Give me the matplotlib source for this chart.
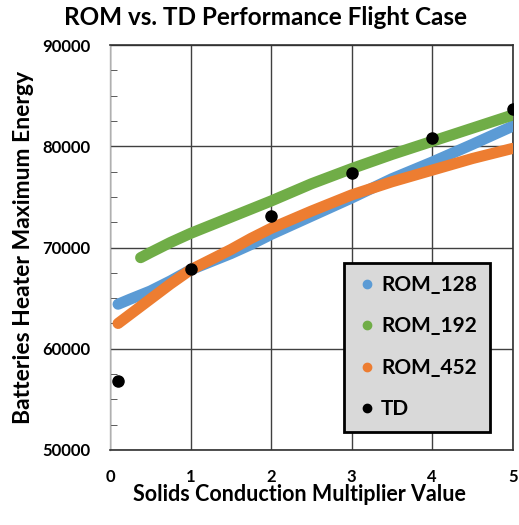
import matplotlib
matplotlib.use("Agg")
import matplotlib.pyplot as plt
from matplotlib.lines import Line2D
from matplotlib.ticker import MultipleLocator

plt.rcParams['font.family'] = ['Lato', 'DejaVu Sans']
plt.rcParams['font.weight'] = 'bold'

# Data
x_128 = [0.1, 0.25, 0.5, 0.75, 1.0, 1.25, 1.5, 1.75, 2.0, 2.5, 3.0, 3.5, 4.0, 4.5, 5.0]
rom_128 = [64400, 64900, 65700, 66700, 67800, 68600, 69400, 70300, 71300, 73100, 74900, 76800, 78450, 80200, 82000]

x_452 = [0.1, 0.25, 0.5, 0.75, 1.0, 1.25, 1.5, 1.75, 2.0, 2.5, 3.0, 3.5, 4.0, 4.5, 5.0]
rom_452 = [62500, 63400, 64900, 66400, 67800, 68800, 69800, 70900, 71900, 73600, 75200, 76500, 77650, 78800, 79800]

x_192 = [0.38, 0.5, 0.75, 1.0, 1.25, 1.5, 1.75, 2.0, 2.5, 3.0, 3.5, 4.0, 4.5, 5.0]
rom_192 = [69000, 69500, 70500, 71400, 72200, 73000, 73800, 74600, 76300, 77800, 79200, 80500, 81800, 83100]

td_x = [0.1, 1, 2, 3, 4, 5]
td_y = [56800, 67900, 73150, 77400, 80800, 83700]

series_names = ['ROM_128', 'ROM_192', 'ROM_452', 'TD']
c_blue = '#5b9bd5'
c_green = '#70ad47'
c_orange = '#ed7d31'

fig = plt.figure(figsize=(5.19, 5.25), dpi=100)
ax = fig.add_axes([0.212, 0.143, 0.776, 0.771])

lw = 8
ax.plot(x_128, rom_128, color=c_blue, lw=lw, solid_capstyle='round', zorder=3)
ax.plot(x_192, rom_192, color=c_green, lw=lw, solid_capstyle='round', zorder=3)
ax.plot(x_452, rom_452, color=c_orange, lw=lw, solid_capstyle='round', zorder=4)
ax.plot(td_x, td_y, 'o', color='black', ms=8, zorder=5, linestyle='none')

ax.set_xlim(0, 5)
ax.set_ylim(50000, 90000)
ax.xaxis.set_major_locator(MultipleLocator(1))
ax.yaxis.set_major_locator(MultipleLocator(10000))
ax.yaxis.set_minor_locator(MultipleLocator(2500))
ax.grid(True, which='major', color='#404040', lw=1)
ax.set_axisbelow(True)
ax.tick_params(axis='x', which='major', length=0, labelsize=12, pad=14)
ax.tick_params(axis='y', which='major', length=0, labelsize=12, pad=14)
ax.tick_params(axis='y', which='minor', direction='in', length=5, color='#404040')
ax.tick_params(axis='x', which='minor', length=0)
for lab in ax.get_xticklabels() + ax.get_yticklabels():
    lab.set_fontweight('bold')

for s in ['top', 'right', 'bottom']:
    ax.spines[s].set_color('#303030')
    ax.spines[s].set_linewidth(1.2)
ax.spines['left'].set_color('#b0b0b0')
ax.spines['left'].set_linewidth(1.0)

fig.text(0.512, 0.966, 'ROM vs. TD Performance Flight Case', fontsize=17.5,
         fontweight='bold', ha='center', va='center')
ax.set_xlabel('Solids Conduction Multiplier Value', fontsize=15.5, fontweight='bold', labelpad=2)
ax.xaxis.set_label_coords(0.47, -0.085)
ax.set_ylabel('Batteries Heater Maximum Energy', fontsize=16.5, fontweight='bold', labelpad=6)

handles = [
    Line2D([], [], marker='o', color=c_blue, ls='none', ms=6),
    Line2D([], [], marker='o', color=c_green, ls='none', ms=6),
    Line2D([], [], marker='o', color=c_orange, ls='none', ms=6),
    Line2D([], [], marker='o', color='black', ls='none', ms=6),
]
leg = ax.legend(handles, series_names, loc='upper left', bbox_to_anchor=(0.58, 0.463),
                frameon=True, fancybox=False, facecolor='#d9d9d9', edgecolor='black',
                framealpha=1, prop={'weight': 'bold', 'size': 15}, labelspacing=1.03,
                handletextpad=0.2, handlelength=1.0, borderpad=0.6, borderaxespad=0)
leg.get_frame().set_linewidth(2)
leg.set_zorder(10)

fig.savefig('out.png', dpi=100)
